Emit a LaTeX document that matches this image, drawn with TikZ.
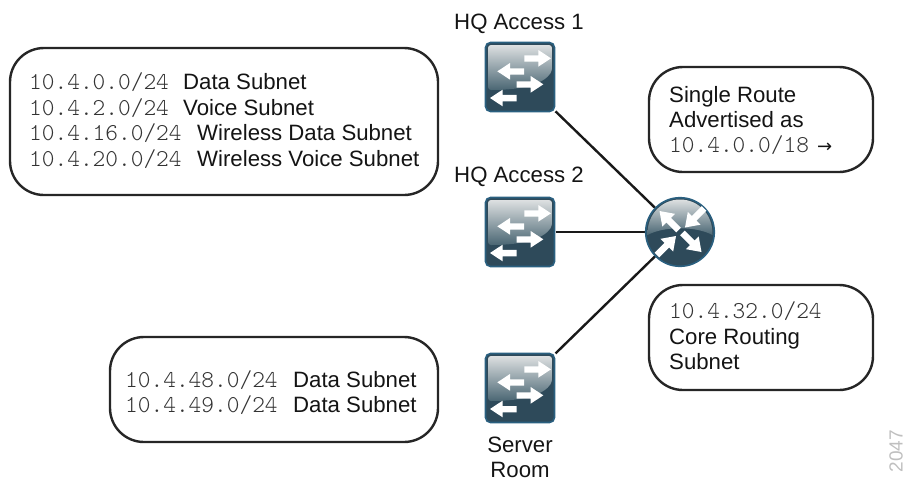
\documentclass[tikz,border=0pt]{standalone}
\usepackage{fontspec}
\setmainfont{Liberation Sans}
\newfontfamily\monof{Latin Modern Mono Light}
\newfontfamily\arrowf{DejaVu Sans}
\definecolor{icondark}{HTML}{2E4A5A}
\definecolor{iconedge}{HTML}{2A6080}
\definecolor{glosstop}{HTML}{DDE0E1}
\definecolor{glossbot}{HTML}{4A6673}
\definecolor{monogray}{HTML}{333333}
\tikzset{
  iconsq/.style={minimum size=71pt,inner sep=0pt,outer sep=0pt,rectangle},
  iconrd/.style={minimum size=70pt,inner sep=0pt,outer sep=0pt,circle},
  linkline/.style={line width=2.4pt,black!90},
  bubble/.style={draw=black!85,line width=2.4pt,rounded corners=34pt,fill=white},
  lbl/.style={font=\fontsize{22.2}{26}\selectfont,inner sep=0pt,anchor=base west,text=black!92},
  captxt/.style={font=\fontsize{22.2}{26}\selectfont,inner sep=0pt,anchor=base,text=black!92},
  mono/.style={font=\fontsize{24.2}{26}\monof,text=monogray}
}
\newcommand{\hbararrow}[3]{%
  \fill[white] (#1,#2) -- ++(-#3*38,-25) -- ++(0,16) -- ++(-#3*42,0) -- ++(0,19) -- ++(#3*42,0) -- ++(0,15) -- cycle;}
\newcommand{\rdarrow}[2]{%
  \begin{scope}[shift={(#1)},rotate=#2]
    \fill[white] (0,0) -- (-13,-9) -- (-13,-3.2) -- (-27,-3.2) -- (-27,3.2) -- (-13,3.2) -- (-13,9) -- cycle;
  \end{scope}}
\newcommand{\swicon}[1]{%
  \begin{scope}[shift={(#1.center)}]
    \fill[icondark,draw=iconedge,line width=1.6pt,rounded corners=5pt] (-34.5,-34.5) rectangle (34.5,34.5);
    \shade[top color=glosstop,bottom color=glossbot,rounded corners=3pt]
      (-32,-32) -- (32,-32) -- (32,-6) .. controls (24,6) and (5,13) .. (-32,13) -- cycle;
    \begin{scope}[shift={(-50,-47)},x=0.3333pt,y=-0.3333pt]
      \hbararrow{243}{85}{1}
      \hbararrow{82}{124}{-1}
      \hbararrow{220}{163}{1}
      \hbararrow{60}{204}{-1}
    \end{scope}
  \end{scope}}
\newcommand{\rticon}[1]{%
  \begin{scope}[shift={(#1.center)}]
    \fill[icondark,draw=iconedge,line width=1.6pt] (0,0) circle (34.3pt);
    \shade[top color=glosstop,bottom color=glossbot]
      (-32.5,3) .. controls (-33,-18) and (-18,-32.5) .. (0,-32.5) .. controls (18,-32.5) and (33,-18) .. (32.5,3) .. controls (16,-6) and (-16,-6) .. (-32.5,3) -- cycle;
    \rdarrow{-20.5,-21}{135}
    \rdarrow{5,-4.5}{225}
    \rdarrow{-4,4}{45}
    \rdarrow{21.5,20}{-45}
  \end{scope}}
\begin{document}
\begin{tikzpicture}[x=1pt,y=-1pt]
\useasboundingbox (0,0) rectangle (905,480);
\node[iconsq] (sw1) at (520,77) {};
\node[iconsq] (sw2) at (520,232) {};
\node[iconsq] (sw3) at (520,388) {};
\node[iconrd] (rt) at (680,232) {};
\draw[linkline] (sw1) -- (rt);
\draw[linkline] (sw2) -- (rt);
\draw[linkline] (sw3) -- (rt);
\swicon{sw1}\swicon{sw2}\swicon{sw3}\rticon{rt}
\node[captxt] (capa) at (519,29) {HQ Access 1};
\node[captxt] (capb) at (519,182) {HQ Access 2};
\node[captxt] (capc) at (520,452) {Server};
\node[captxt] (capd) at (520,477) {Room};
\draw[bubble] (10,48) rectangle (438,195);
\draw[bubble] (110,337) rectangle (438,442);
\draw[bubble] (649,67) rectangle (873,172);
\draw[bubble] (649,285) rectangle (873,390);
\node[lbl,mono] (a1) at (29,89) {10.4.0.0/24};
\node[lbl] (a1t) at (183,89) {Data Subnet};
\node[lbl,mono] (a2) at (29,115) {10.4.2.0/24};
\node[lbl] (a2t) at (183,115) {Voice Subnet};
\node[lbl,mono] (a3) at (29,140) {10.4.16.0/24};
\node[lbl] (a3t) at (197,140) {Wireless Data Subnet};
\node[lbl,mono] (a4) at (29,166) {10.4.20.0/24};
\node[lbl] (a4t) at (197,166) {Wireless Voice Subnet};
\node[lbl,mono] (b1) at (125,387) {10.4.48.0/24};
\node[lbl] (b1t) at (293,387) {Data Subnet};
\node[lbl,mono] (b2) at (125,412) {10.4.49.0/24};
\node[lbl] (b2t) at (293,412) {Data Subnet};
\node[lbl] (c1) at (669,102) {Single Route};
\node[lbl] (c2) at (669,127) {Advertised as};
\node[lbl,mono] (c3) at (669,152) {10.4.0.0/18};
\node[lbl,font=\fontsize{18}{20}\arrowf] (c3t) at (817,152) {→};
\node[lbl,mono] (d1) at (669,318) {10.4.32.0/24};
\node[lbl] (d2) at (669,344) {Core Routing};
\node[lbl] (d3) at (669,369) {Subnet};
\node[font=\fontsize{19}{21}\selectfont,text=black!25,rotate=90,inner sep=0pt] (num) at (896,451) {2047};
\end{tikzpicture}
\end{document}
